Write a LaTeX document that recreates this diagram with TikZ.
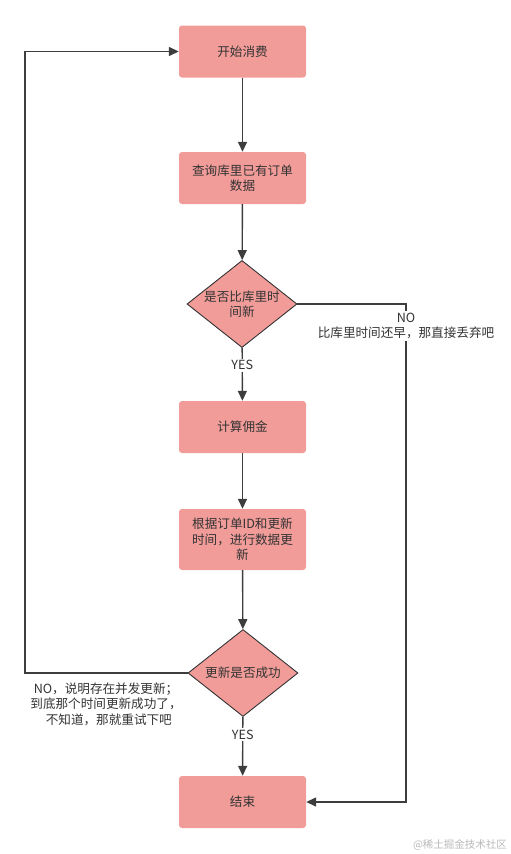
\documentclass[tikz,border=0pt]{standalone}
\usepackage{fontspec}
\setmainfont{Noto Sans CJK SC}
\usetikzlibrary{positioning,arrows.meta,shapes.geometric}
\definecolor{boxpink}{HTML}{F19C99}
\definecolor{inkgray}{HTML}{333333}
\definecolor{linegray}{HTML}{3D3D3D}
\tikzset{
  flowarrow/.style={-{Triangle[length=10pt,width=9pt]}, line width=1.4pt, draw=linegray},
  stepbox/.style={fill=boxpink, rounded corners=3pt, minimum width=127pt, minimum height=52pt, align=center, text=inkgray, inner sep=2pt},
  checkbox/.style={diamond, draw=inkgray, line width=0.9pt, fill=boxpink, minimum width=110pt, minimum height=87pt, aspect=1.26, inner sep=0pt, align=center, text=inkgray},
  relabel/.style={fill=white, inner sep=1.5pt, align=center, text=inkgray}
}

\begin{document}
\begin{tikzpicture}[x=1pt, y=-1pt, every node/.style={font=\fontsize{12.6}{15.5}\selectfont}]
  \useasboundingbox (0,0) rectangle (511,854);
  \node[stepbox] (start) at (242.5,51.5) {开始消费};
  \node[stepbox] (query) at (242.5,178) {查询库里已有订单\\数据};
  \node[checkbox] (newer) at (242,304) {是否比库里时\\间新};
  \node[stepbox] (calc) at (242.5,427) {计算佣金};
  \node[stepbox, minimum height=61pt] (update) at (242.5,539.5) {根据订单ID和更新\\时间，进行数据更\\新};
  \node[checkbox] (success) at (243,673) {更新是否成功};
  \node[stepbox] (finish) at (242.5,802) {结束};
  \coordinate (noturn) at (406,304);
  \coordinate (backturn) at (25,51.5);
  \draw[flowarrow] (start) -- (query);
  \draw[flowarrow] (query) -- (newer);
  \draw[flowarrow] (newer) -- node[relabel, pos=0.33]{YES} (calc);
  \draw[flowarrow] (calc) -- (update);
  \draw[flowarrow] (update) -- (success);
  \draw[flowarrow] (success) -- node[relabel, pos=0.3]{YES} (finish);
  \draw[flowarrow] (newer.east) -- (noturn) |- (finish.east);
  \node[relabel] (dropnote) at (406,326) {NO\\比库里时间还早，那直接丢弃吧};
  \draw[flowarrow] (success.west) -| (backturn) -- (start.west);
  \node[relabel] (retrynote) at (106,704) {NO，说明存在并发更新；\\到底那个时间更新成功了，\\\ \ 不知道，那就重试下吧};
  \node[text=gray!55, font=\fontsize{10.5}{12}\selectfont] (watermark) at (460,845) {@稀土掘金技术社区};
\end{tikzpicture}
\end{document}
